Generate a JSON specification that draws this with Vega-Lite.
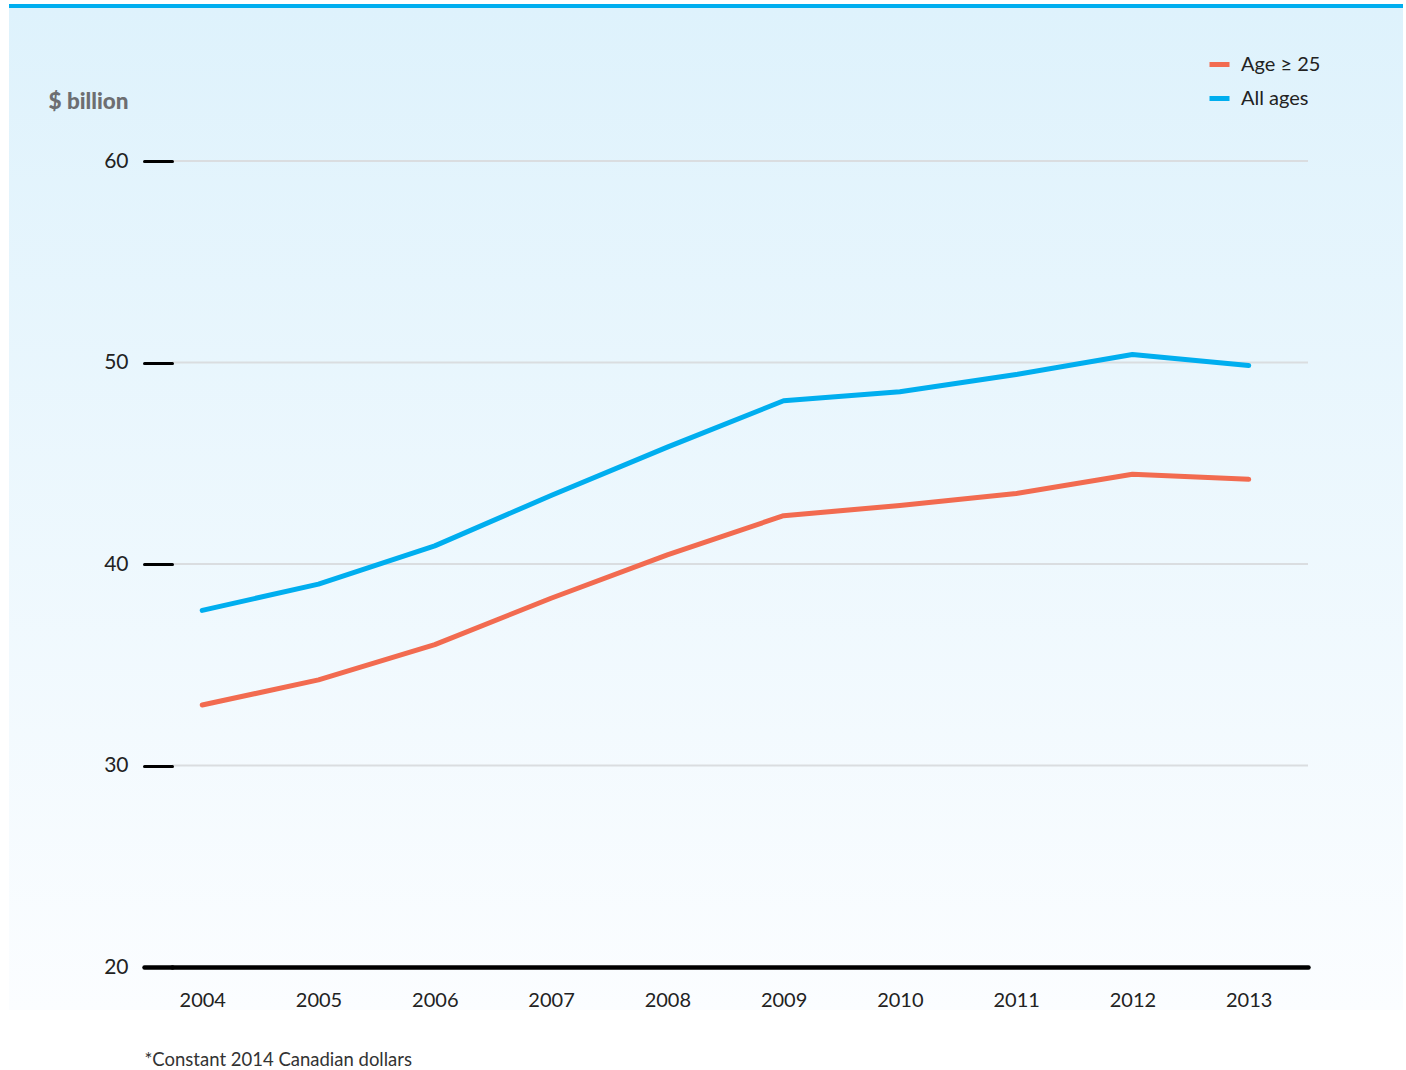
{
  "$schema": "https://vega.github.io/schema/vega-lite/v6.json",
  "width": 1136,
  "height": 806,
  "autosize": {"type": "none"},
  "padding": {"left": 172, "top": 161, "right": 98, "bottom": 103},
  "background": "#ffffff",
  "config": {"view": {"stroke": null}, "font": "Lato"},
  "layer": [
    {
      "data": {"values": [{"panel": "background"}]},
      "mark": {
        "type": "rect",
        "clip": false,
        "fill": {
          "gradient": "linear",
          "x1": 0, "y1": 0, "x2": 0, "y2": 1,
          "stops": [
            {"offset": 0, "color": "#def2fc"},
            {"offset": 1, "color": "#fbfdff"}
          ]
        }
      },
      "encoding": {
        "x": {"value": -163},
        "x2": {"value": 1231},
        "y": {"value": -153},
        "y2": {"value": 849}
      }
    },
    {
      "data": {"values": [{"panel": "topbar"}]},
      "mark": {"type": "rect", "clip": false, "fill": "#00aeef"},
      "encoding": {
        "x": {"value": -163},
        "x2": {"value": 1231},
        "y": {"value": -157},
        "y2": {"value": -153}
      }
    },
    {
      "data": {"values": [{"grid": 30}, {"grid": 40}, {"grid": 50}, {"grid": 60}]},
      "mark": {"type": "rule", "color": "#dadde0", "strokeWidth": 2},
      "encoding": {
        "y": {"field": "grid", "type": "quantitative", "scale": {"domain": [20, 60], "nice": false, "zero": false}}
      }
    },
    {
      "data": {
        "values": [
          {"year": 2004, "series": "Age ≥ 25", "value": 33.0},
          {"year": 2005, "series": "Age ≥ 25", "value": 34.25},
          {"year": 2006, "series": "Age ≥ 25", "value": 36.0},
          {"year": 2007, "series": "Age ≥ 25", "value": 38.3},
          {"year": 2008, "series": "Age ≥ 25", "value": 40.45},
          {"year": 2009, "series": "Age ≥ 25", "value": 42.4},
          {"year": 2010, "series": "Age ≥ 25", "value": 42.9},
          {"year": 2011, "series": "Age ≥ 25", "value": 43.5},
          {"year": 2012, "series": "Age ≥ 25", "value": 44.45},
          {"year": 2013, "series": "Age ≥ 25", "value": 44.2},
          {"year": 2004, "series": "All ages", "value": 37.7},
          {"year": 2005, "series": "All ages", "value": 39.0},
          {"year": 2006, "series": "All ages", "value": 40.9},
          {"year": 2007, "series": "All ages", "value": 43.4},
          {"year": 2008, "series": "All ages", "value": 45.8},
          {"year": 2009, "series": "All ages", "value": 48.1},
          {"year": 2010, "series": "All ages", "value": 48.55},
          {"year": 2011, "series": "All ages", "value": 49.4},
          {"year": 2012, "series": "All ages", "value": 50.4},
          {"year": 2013, "series": "All ages", "value": 49.85}
        ]
      },
      "mark": {"type": "line", "strokeWidth": 5, "strokeCap": "round", "strokeJoin": "round"},
      "encoding": {
        "x": {
          "field": "year",
          "type": "quantitative",
          "scale": {"domain": [2003.74, 2013.51], "nice": false, "zero": false},
          "axis": {
            "values": [2004, 2005, 2006, 2007, 2008, 2009, 2010, 2011, 2012, 2013],
            "format": "d",
            "grid": false,
            "ticks": false,
            "domainColor": "#000000",
            "domainWidth": 4.5,
            "domainCap": "round",
            "labelFontSize": 20,
            "labelColor": "#222222",
            "labelPadding": 23,
            "labelFlush": false,
            "zindex": 1,
            "title": "*Constant 2014 Canadian dollars",
            "titleX": -28,
            "titleY": 92,
            "titleAlign": "left",
            "titleBaseline": "middle",
            "titleFontSize": 18.5,
            "titleFontWeight": "normal",
            "titleColor": "#333333"
          }
        },
        "y": {
          "field": "value",
          "type": "quantitative",
          "scale": {"domain": [20, 60], "nice": false, "zero": false},
          "axis": {
            "values": [20, 30, 40, 50, 60],
            "grid": false,
            "domain": false,
            "tickSize": 28,
            "tickColor": "#000000",
            "tickWidth": {"condition": {"test": "datum.value === 20", "value": 4.5}, "value": 3},
            "tickCap": "round",
            "labelFontSize": 21,
            "labelColor": "#222222",
            "labelPadding": 16,
            "zindex": 1,
            "title": "$ billion",
            "titleAngle": 0,
            "titleX": -124,
            "titleY": -60,
            "titleAlign": "left",
            "titleBaseline": "middle",
            "titleFontSize": 22.5,
            "titleFontWeight": 900,
            "titleColor": "#6d6e71"
          }
        },
        "color": {
          "field": "series",
          "type": "nominal",
          "scale": {"domain": ["Age ≥ 25", "All ages"], "range": ["#f26b50", "#00aeef"]},
          "legend": {
            "title": null,
            "orient": "none",
            "legendX": 1035,
            "legendY": -109,
            "symbolType": "stroke",
            "symbolSize": 400,
            "symbolStrokeWidth": 5,
            "labelFontSize": 20,
            "labelColor": "#222222",
            "labelOffset": 9,
            "rowPadding": 11
          }
        }
      }
    }
  ]
}
